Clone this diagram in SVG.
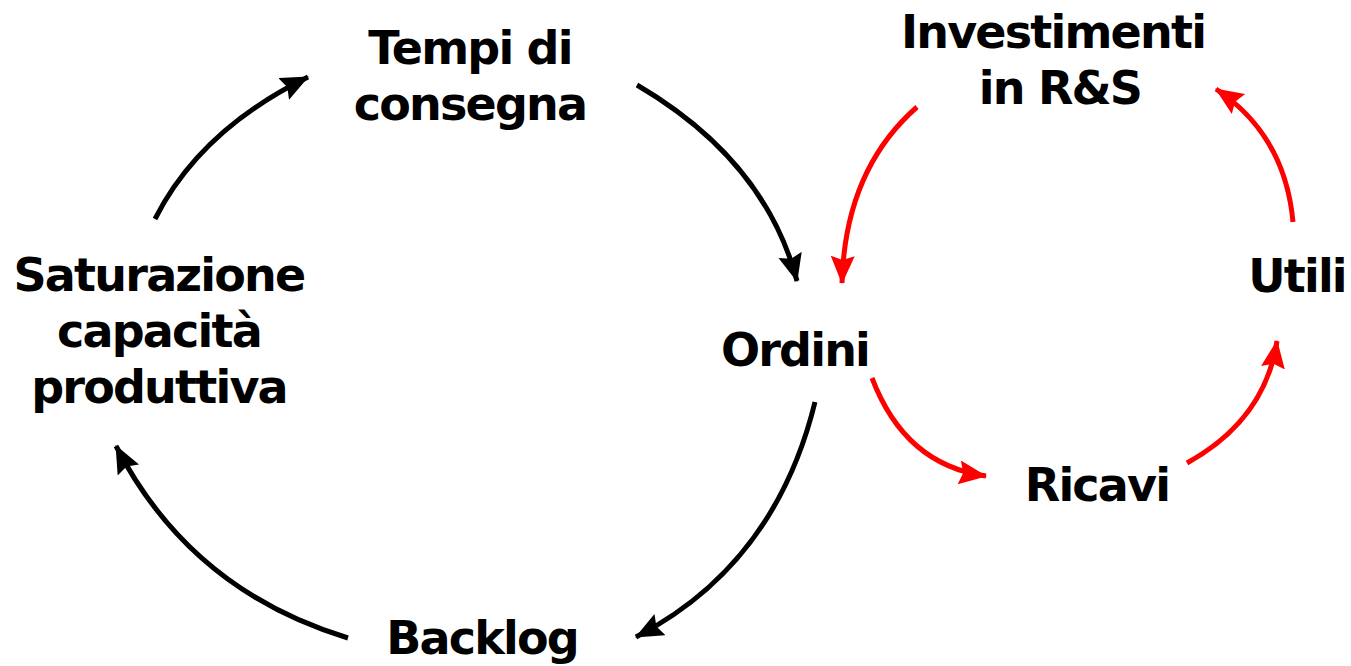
<svg xmlns="http://www.w3.org/2000/svg" width="1351" height="666" viewBox="0 0 1351 666">
<style>
text{font-family:"DejaVu Sans","Verdana",sans-serif;font-weight:bold;font-size:46px;letter-spacing:-1.8px;text-anchor:middle;fill:#000}
.k{fill:none;stroke:#000;stroke-width:5}
.r{fill:none;stroke:#ff0000;stroke-width:5}
</style>
<defs>
<marker id="ak" markerUnits="userSpaceOnUse" markerWidth="30" markerHeight="26" refX="27" refY="12" orient="auto"><path d="M0,0 L28,12 L0,24 L4,12 Z" fill="#000"/></marker>
<marker id="ar" markerUnits="userSpaceOnUse" markerWidth="30" markerHeight="26" refX="27" refY="12" orient="auto"><path d="M0,0 L28,12 L0,24 L4,12 Z" fill="#ff0000"/></marker>
</defs>
<rect width="1351" height="666" fill="#fff"/>
<g id="connectors">
<path class="k" d="M155,219 Q200,130 308,77" marker-end="url(#ak)"/>
<path class="k" d="M637,85 Q765,160 797,281" marker-end="url(#ak)"/>
<path class="k" d="M815,402 Q775,565 636,637" marker-end="url(#ak)"/>
<path class="k" d="M348,638 Q190,590 116,446" marker-end="url(#ak)"/>
<path class="r" d="M917,107 Q845,170 842,283" marker-end="url(#ar)"/>
<path class="r" d="M872,378 Q905,465 986,476" marker-end="url(#ar)"/>
<path class="r" d="M1187,463 Q1265,420 1277,341" marker-end="url(#ar)"/>
<path class="r" d="M1293,222 Q1285,135 1216,89" marker-end="url(#ar)"/>
</g>
<g id="tempi"><text x="470" y="64">Tempi di</text><text x="470" y="120">consegna</text></g>
<g id="saturazione"><text x="159" y="291">Saturazione</text><text x="159" y="347">capacità</text><text x="159" y="403">produttiva</text></g>
<g id="ordini"><text x="795" y="366">Ordini</text></g>
<g id="backlog"><text x="482" y="654">Backlog</text></g>
<g id="investimenti"><text x="1053" y="48">Investimenti</text><text x="1060" y="104">in R&amp;S</text></g>
<g id="utili"><text x="1297" y="292">Utili</text></g>
<g id="ricavi"><text x="1097" y="501">Ricavi</text></g>
</svg>
